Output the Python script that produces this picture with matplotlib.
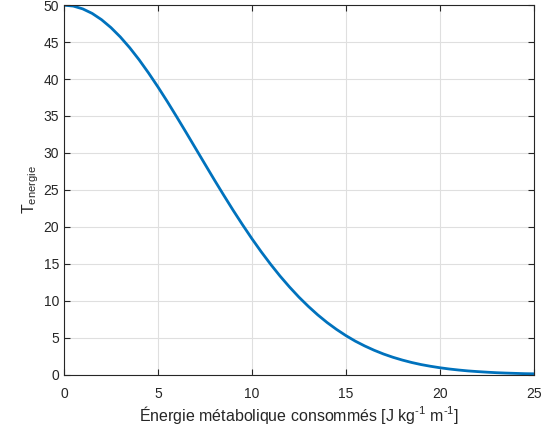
# Courbe T_energie en fonction de l'energie metabolique
import matplotlib
matplotlib.use("Agg")
import matplotlib.pyplot as plt

plt.rcParams["font.family"] = ["Liberation Sans", "DejaVu Sans"]
plt.rcParams["mathtext.fontset"] = "custom"
plt.rcParams["mathtext.rm"] = "Liberation Sans"
plt.rcParams["mathtext.it"] = "Liberation Sans"
plt.rcParams["mathtext.default"] = "regular"

# Valeurs (pas de 0.5)
energie = [0, 0.5, 1, 1.5, 2, 2.5, 3, 3.5, 4, 4.5, 5, 5.5, 6, 6.5, 7, 7.5,
           8, 8.5, 9, 9.5, 10, 10.5, 11, 11.5, 12, 12.5, 13, 13.5, 14, 14.5,
           15, 15.5, 16, 16.5, 17, 17.5, 18, 18.5, 19, 19.5, 20, 20.5, 21,
           21.5, 22, 22.5, 23, 23.5, 24, 24.5, 25]
t_energie = [50.0, 49.88, 49.50, 48.89, 48.04, 46.97, 45.70, 44.24, 42.61,
             40.83, 38.94, 36.95, 34.88, 32.77, 30.63, 28.49, 26.36, 24.28,
             22.24, 20.28, 18.39, 16.60, 14.91, 13.32, 11.85, 10.48, 9.23,
             8.08, 7.04, 6.11, 5.27, 4.52, 3.87, 3.29, 2.78, 2.34, 1.96, 1.63,
             1.35, 1.12, 0.92, 0.75, 0.61, 0.49, 0.40, 0.32, 0.25, 0.20, 0.16,
             0.12, 0.10]

xticks = [0, 5, 10, 15, 20, 25]
yticks = [0, 5, 10, 15, 20, 25, 30, 35, 40, 45, 50]

axcol = "#262626"

fig = plt.figure(figsize=(5.51, 4.32), dpi=100)
ax = fig.add_axes([0.116, 0.133, 0.853, 0.855])

ax.plot(energie, t_energie, color="#0072BD", linewidth=2)

ax.set_xlim(0, 25)
ax.set_ylim(0, 50)
ax.set_xticks(xticks)
ax.set_yticks(yticks)
ax.grid(True, color="#DFDFDF", linewidth=0.8)
ax.set_axisbelow(True)
ax.tick_params(direction="in", length=4, width=0.8, colors=axcol,
               labelsize=10, top=True, right=True,
               labeltop=False, labelright=False)
ax.tick_params(axis="x", pad=9)
for s in ax.spines.values():
    s.set_color(axcol)
    s.set_linewidth(0.8)

ax.set_xlabel(r"Énergie métabolique consommés [J kg$^{\text{-1}}$ m$^{\text{-1}}$]",
              fontsize=11.5, color=axcol, labelpad=2)
ax.set_ylabel("T$_{energie}$", fontsize=11.5, color=axcol, labelpad=2)

fig.savefig("out.png", dpi=100)
